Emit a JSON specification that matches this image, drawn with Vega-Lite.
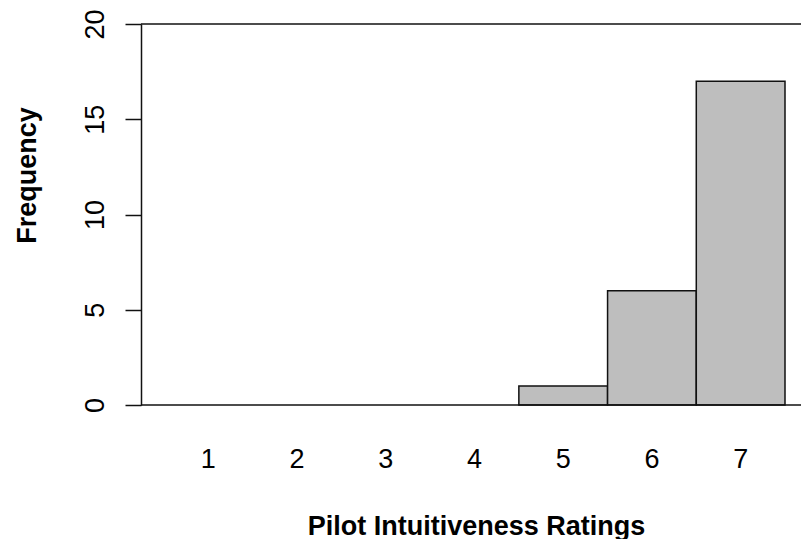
{
  "$schema": "https://vega.github.io/schema/vega-lite/v6.json",
  "width": 660,
  "height": 381,
  "autosize": "none",
  "padding": {"left": 141, "top": 24, "right": 0, "bottom": 134},
  "background": "white",
  "config": {"view": {"stroke": null}, "font": "Liberation Sans"},
  "layer": [
    {
      "data": {"values": [
        {"rating": "1", "count": 0},
        {"rating": "2", "count": 0},
        {"rating": "3", "count": 0},
        {"rating": "4", "count": 0},
        {"rating": "5", "count": 1},
        {"rating": "6", "count": 6},
        {"rating": "7", "count": 17}
      ]},
      "mark": {"type": "bar", "fill": "#BEBEBE", "stroke": "#111", "strokeWidth": 1.5},
      "encoding": {
        "x": {
          "field": "rating", "type": "ordinal",
          "scale": {"range": [23, 644], "paddingInner": 0, "paddingOuter": 0},
          "axis": {
            "labelAngle": 0, "ticks": false, "domain": false, "grid": false,
            "labelFontSize": 27, "labelColor": "#000", "labelBaseline": "alphabetic", "labelPadding": 62,
            "title": "Pilot Intuitiveness Ratings", "titleFontSize": 27, "titleFontWeight": "bold", "titleColor": "#000",
            "titleX": 335, "titleY": 129, "titleAlign": "center", "titleBaseline": "alphabetic"
          }
        },
        "y": {
          "field": "count", "type": "quantitative",
          "scale": {"domain": [0, 20], "nice": false, "zero": true},
          "axis": {
            "values": [0, 5, 10, 15, 20], "grid": false,
            "tickSize": 16, "tickColor": "#111", "tickWidth": 1.5, "domainColor": "#111", "domainWidth": 1.5,
            "labelAngle": 270, "labelAlign": "center", "labelBaseline": "alphabetic", "labelPadding": 22,
            "labelFontSize": 27, "labelColor": "#000",
            "title": "Frequency", "titleFontSize": 27, "titleFontWeight": "bold", "titleColor": "#000",
            "titleAngle": 270, "titleX": -114, "titleY": 151, "titleAlign": "center", "titleBaseline": "middle"
          }
        },
        "strokeOpacity": {"condition": {"test": "datum.count == 0", "value": 0}, "value": 1}
      }
    },
    {
      "data": {"values": [{"count": 0}, {"count": 20}]},
      "mark": {"type": "rule", "color": "#111", "strokeWidth": 1.5},
      "encoding": {"y": {"field": "count", "type": "quantitative"}}
    }
  ]
}
